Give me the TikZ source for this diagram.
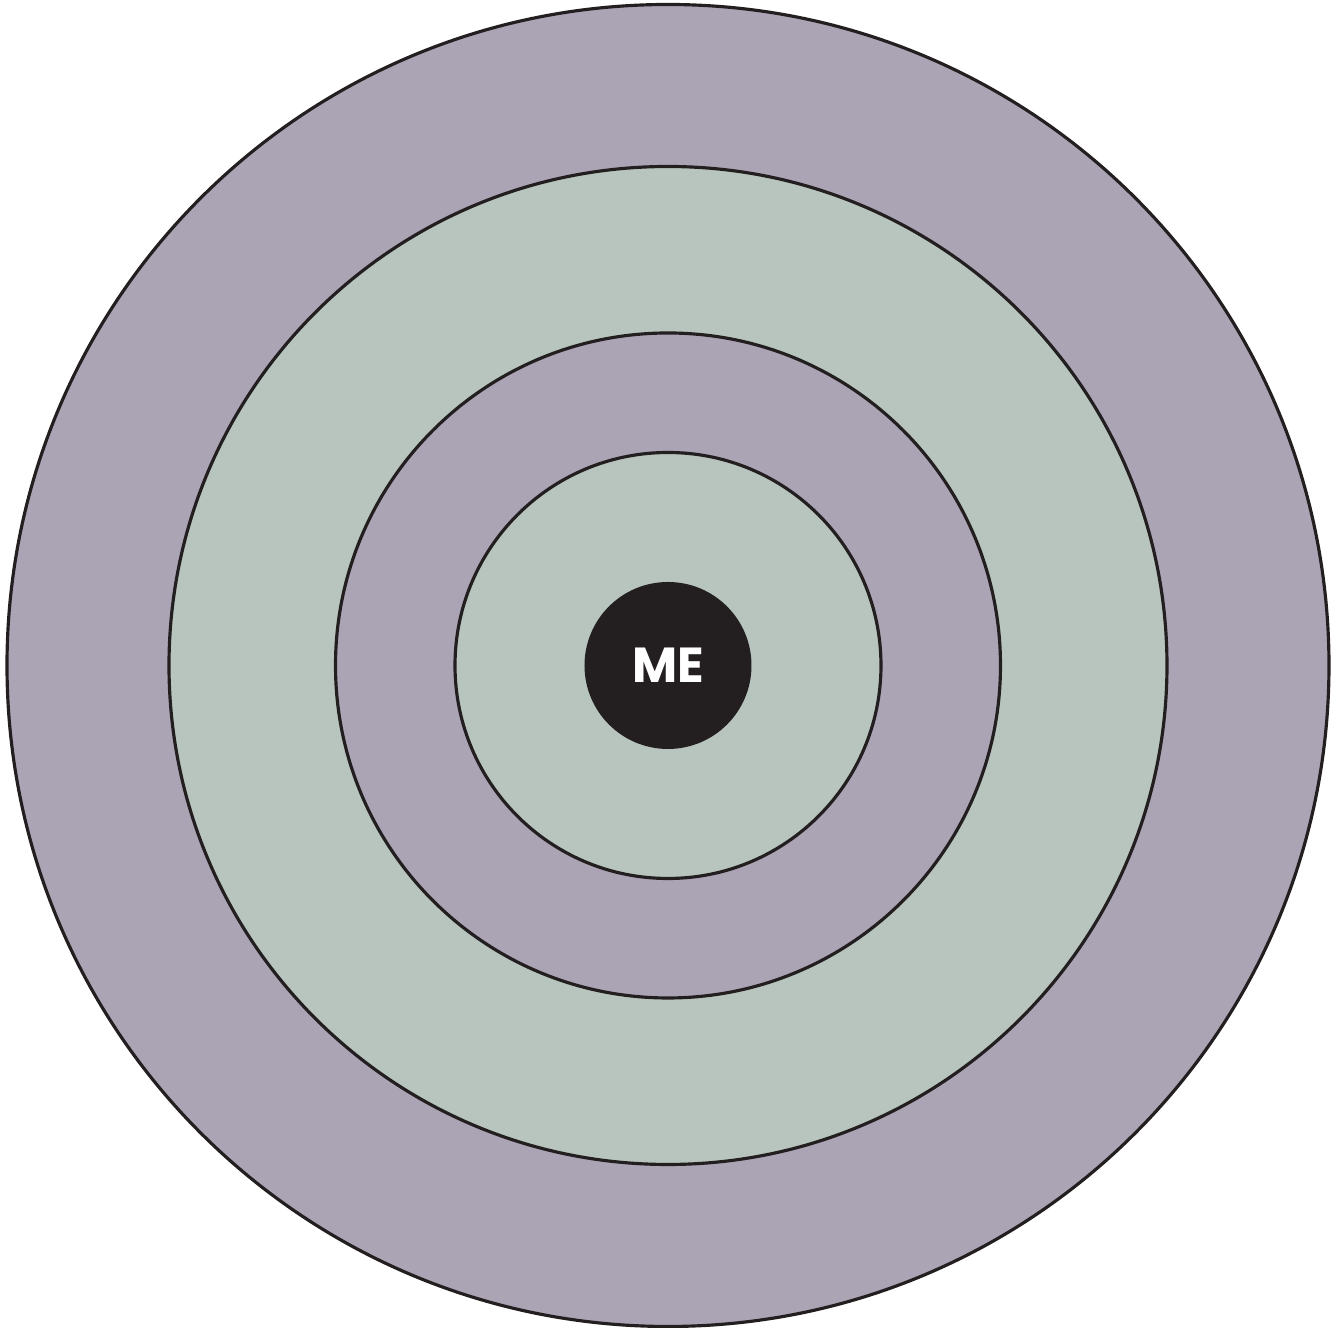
\documentclass[tikz,border=0pt]{standalone}
\usepackage{fontspec}
\usepackage{xcolor}
\setmainfont{Poppins}
\definecolor{ringpurple}{HTML}{ABA4B5}
\definecolor{ringgreen}{HTML}{B8C5BE}
\definecolor{coreblack}{HTML}{231F20}

\begin{document}
\begin{tikzpicture}
    \useasboundingbox (0,0) rectangle (13.35,13.28);
    \tikzset{ring/.style={draw=coreblack, line width=0.9pt, circle, inner sep=0pt}}

    \node[ring, fill=ringpurple, minimum size=13.22cm] (outer) at (6.68,6.625) {};
    \node[ring, fill=ringgreen, minimum size=9.98cm] (second) at (outer.center) {};
    \node[ring, fill=ringpurple, minimum size=6.65cm] (third) at (outer.center) {};
    \node[ring, fill=ringgreen, minimum size=4.26cm] (inner) at (outer.center) {};
    \node[circle, fill=coreblack, inner sep=0pt, minimum size=1.67cm, text=white, font=\bfseries\fontsize{14}{14}\selectfont] (me) at (outer.center) {ME};
\end{tikzpicture}
\end{document}
